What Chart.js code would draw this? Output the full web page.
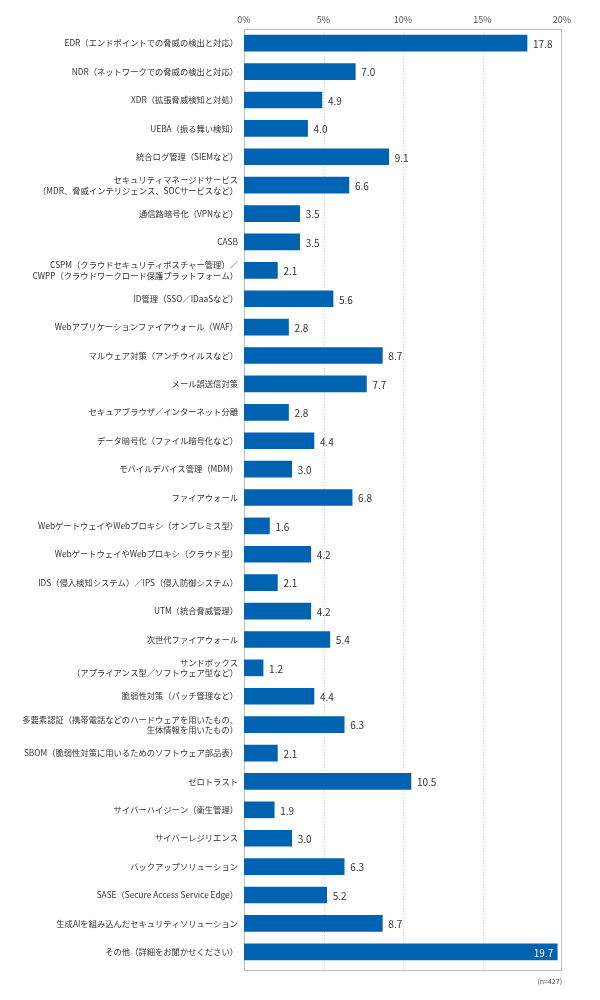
<!DOCTYPE html>
<html>
<head>
<meta charset="utf-8">
<script src="https://cdn.jsdelivr.net/npm/chart.js@4.4.0/dist/chart.umd.min.js"></script>
<style>
  html, body { margin: 0; padding: 0; background: #fff; }
  #wrap { width: 600px; height: 1000px; }
</style>
</head>
<body>
<div id="wrap"><canvas id="chart" width="600" height="1000"></canvas></div>
<script>
// 項目名（複数行はリストで）
var categories = [
  "EDR（エンドポイントでの脅威の検出と対応）",
  "NDR（ネットワークでの脅威の検出と対応）",
  "XDR（拡張脅威検知と対処）",
  "UEBA（振る舞い検知）",
  "統合ログ管理（SIEMなど）",
  ["セキュリティマネージドサービス", "（MDR、脅威インテリジェンス、SOCサービスなど）"],
  "通信路暗号化（VPNなど）",
  "CASB",
  ["CSPM（クラウドセキュリティポスチャー管理）／", "CWPP（クラウドワークロード保護プラットフォーム）"],
  "ID管理（SSO／IDaaSなど）",
  "Webアプリケーションファイアウォール（WAF）",
  "マルウェア対策（アンチウイルスなど）",
  "メール誤送信対策",
  "セキュアブラウザ／インターネット分離",
  "データ暗号化（ファイル暗号化など）",
  "モバイルデバイス管理（MDM）",
  "ファイアウォール",
  "WebゲートウェイやWebプロキシ（オンプレミス型）",
  "WebゲートウェイやWebプロキシ（クラウド型）",
  "IDS（侵入検知システム）／IPS（侵入防御システム）",
  "UTM（統合脅威管理）",
  "次世代ファイアウォール",
  ["サンドボックス", "（アプライアンス型／ソフトウェア型など）"],
  "脆弱性対策（パッチ管理など）",
  ["多要素認証（携帯電話などのハードウェアを用いたもの、", "生体情報を用いたもの）"],
  "SBOM（脆弱性対策に用いるためのソフトウェア部品表）",
  "ゼロトラスト",
  "サイバーハイジーン（衛生管理）",
  "サイバーレジリエンス",
  "バックアップソリューション",
  "SASE（Secure Access Service Edge）",
  "生成AIを組み込んだセキュリティソリューション",
  "その他（詳細をお聞かせください）"
];

// 割合（%）
var values = [
  17.8, 7.0, 4.9, 4.0, 9.1, 6.6, 3.5, 3.5, 2.1, 5.6,
  2.8, 8.7, 7.7, 2.8, 4.4, 3.0, 6.8, 1.6, 4.2, 2.1,
  4.2, 5.4, 1.2, 4.4, 6.3, 2.1, 10.5, 1.9, 3.0, 6.3,
  5.2, 8.7, 19.7
];

// 目盛り
var tickValues = [0, 5, 10, 15, 20];
var sampleNote = "(n=427)";

var JP_FONT = "'Noto Sans CJK JP', 'Noto Sans', sans-serif";
var BOX_EXTRA = 5; // 枠の下側の余白

// 枠線・点線の目盛線・数値ラベルを描くプラグイン
var labelPlugin = {
  id: "labelPlugin",
  beforeDatasetsDraw: function (chart) {
    var a = chart.chartArea;
    var c = chart.ctx;
    var xs = chart.scales.x;
    var bottom = a.bottom + BOX_EXTRA;
    c.save();
    // 点線の目盛線
    c.strokeStyle = "#d0d0d0";
    c.lineWidth = 1;
    c.setLineDash([1, 2]);
    tickValues.forEach(function (v) {
      if (v === tickValues[0] || v === tickValues[tickValues.length - 1]) return;
      var x = Math.round(xs.getPixelForValue(v)) + 0.5;
      c.beginPath();
      c.moveTo(x, a.top);
      c.lineTo(x, bottom);
      c.stroke();
    });
    // 外枠
    c.setLineDash([]);
    c.strokeStyle = "#bdbdbd";
    c.strokeRect(a.left + 0.5, a.top + 0.5, a.right - a.left - 1, bottom - a.top - 1);
    c.restore();
  },
  afterDatasetsDraw: function (chart) {
    var c = chart.ctx;
    var meta = chart.getDatasetMeta(0);
    var xs = chart.scales.x;
    c.save();
    c.font = "10px " + JP_FONT;
    c.textBaseline = "middle";
    meta.data.forEach(function (bar, i) {
      var txt = values[i].toFixed(1);
      if (bar.x > xs.right - 30) {
        c.fillStyle = "#ffffff";
        c.textAlign = "right";
        c.fillText(txt, bar.x - 4, bar.y + 1);
      } else {
        c.fillStyle = "#333333";
        c.textAlign = "left";
        c.fillText(txt, bar.x + 6, bar.y + 1);
      }
    });
    c.font = "7px " + JP_FONT;
    c.fillStyle = "#444";
    c.textAlign = "right";
    c.fillText(sampleNote, chart.chartArea.right, chart.chartArea.bottom + BOX_EXTRA + 10);
    c.restore();
  }
};

var ctx = document.getElementById("chart").getContext("2d");

var chart = new Chart(ctx, {
  type: "bar",
  data: {
    labels: categories,
    datasets: [{
      data: values,
      backgroundColor: "#0063b1",
      barThickness: 16
    }]
  },
  options: {
    responsive: false,
    animation: false,
    indexAxis: "y",
    layout: { padding: { left: 0, right: 38, top: 0, bottom: 34 } },
    plugins: {
      legend: { display: false },
      tooltip: { enabled: false }
    },
    scales: {
      x: {
        position: "top",
        min: 0,
        max: 20,
        afterBuildTicks: function (s) {
          s.ticks = tickValues.map(function (v) { return { value: v }; });
        },
        afterFit: function (s) { s.height = 29; },
        ticks: {
          padding: 4,
          color: "#555",
          font: { size: 9, family: JP_FONT },
          callback: function (v) { return v + "%"; }
        },
        grid: { display: false, drawTicks: false },
        border: { display: false }
      },
      y: {
        afterFit: function (s) { s.width = 244; },
        ticks: {
          padding: 6,
          color: "#333",
          font: { size: 8.3, family: JP_FONT, lineHeight: 1.25 },
          autoSkip: false
        },
        grid: { display: false, drawTicks: false },
        border: { display: false }
      }
    }
  },
  plugins: [labelPlugin]
});
</script>
</body>
</html>
